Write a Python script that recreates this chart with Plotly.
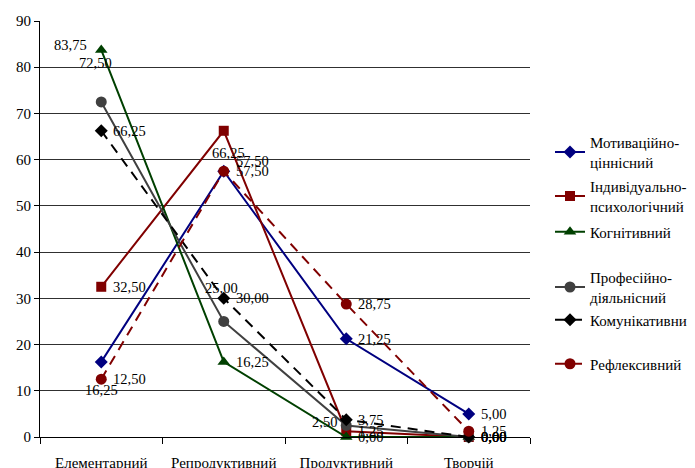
import plotly.graph_objects as go

categories = ["Елементарний", "Репродуктивний", "Продуктивний", "Творчій"]
series_names = ["Мотиваційно-<br>ціннісний", "Індивідуально-<br>психологічний", "Когнітивний",
                "Професійно-<br>діяльнісний", "Комунікативний", "Рефлексивний"]
motiv = [16.25, 57.50, 21.25, 5.00]
indyv = [32.50, 66.25, 1.25, 0.00]
kognit = [83.75, 16.25, 0.00, 0.00]
prof = [72.50, 25.00, 2.50, 0.00]
komun = [66.25, 30.00, 3.75, 0.00]
reflex = [12.50, 57.50, 28.75, 1.25]
y_ticks = [0, 10, 20, 30, 40, 50, 60, 70, 80, 90]

series_values = [motiv, indyv, kognit, prof, komun, reflex]

styles = [
    dict(color="#000080", dash="solid", symbol="diamond", size=10, mcolor="#000080"),
    dict(color="#800000", dash="solid", symbol="square", size=10, mcolor="#800000"),
    dict(color="#004000", dash="solid", symbol="triangle-up", size=11, mcolor="#004000"),
    dict(color="#404040", dash="solid", symbol="circle", size=11, mcolor="#404040"),
    dict(color="#000000", dash="10px,7px", symbol="diamond", size=10, mcolor="#000000"),
    dict(color="#800000", dash="10px,7px", symbol="circle", size=11, mcolor="#800000"),
]

# page body adds an 8px offset; figure is sized so the page fills 695x468
OFF = 8
W, H = 695 - OFF, 468 - OFF

# legend item vertical centres (pixels from top of the page)
legend_centres = [152, 196, 232, 287, 320, 364]

# label placement exceptions: (series, point) -> (xanchor, xshift, yshift)
label_place = {
    (2, 0): ("right", -12, 5),
    (3, 0): ("center", -6, 39),
    (0, 0): ("center", 0, -28),
    (1, 1): ("center", 5, -22),
    (0, 1): ("left", 10, 10),
    (3, 1): ("center", -2, 33),
    (3, 2): ("right", -7, 3),
}

FONT = "Liberation Serif"

fig = go.Figure()
annotations = []
for i, (name, vals, st) in enumerate(zip(series_names, series_values, styles)):
    lg = "legend" if i == 0 else f"legend{i+1}"
    fig.add_trace(go.Scatter(
        x=categories, y=vals, name=name, mode="lines+markers",
        line=dict(color=st["color"], width=2, dash=st["dash"]),
        marker=dict(symbol=st["symbol"], size=st["size"], color=st["mcolor"]),
        cliponaxis=False, legend=lg,
    ))
    for j, v in enumerate(vals):
        xa, xs, ys = label_place.get((i, j), ("left", 10, 0))
        annotations.append(dict(
            x=categories[j], y=v, xref="x", yref="y", showarrow=False,
            text=f"{v:.2f}".replace(".", ","), xanchor=xa, yanchor="middle",
            xshift=xs, yshift=ys, font=dict(family=FONT, size=14.5, color="black"),
        ))

layout_legends = {}
for i, c in enumerate(legend_centres):
    key = "legend" if i == 0 else f"legend{i+1}"
    layout_legends[key] = dict(
        xref="container", yref="container", x=(550 - OFF) / W, y=1 - (c - OFF) / H,
        xanchor="left", yanchor="middle", bgcolor="rgba(0,0,0,0)",
        font=dict(family=FONT, size=15, color="black"), borderwidth=0,
    )

fig.update_layout(
    width=W, height=H,
    margin=dict(l=40 - OFF, r=165, t=21 - OFF, b=31, autoexpand=False),
    paper_bgcolor="white", plot_bgcolor="white",
    font=dict(family=FONT, size=15, color="black"),
    showlegend=True,
    annotations=annotations,
    xaxis=dict(
        type="category", range=[-0.5, 3.5], showgrid=False,
        showline=True, linecolor="black", linewidth=1,
        ticks="outside", tickson="boundaries", ticklen=6, tickcolor="black",
        ticklabelstandoff=12, tickangle=0,
        tickfont=dict(family=FONT, size=15, color="black"),
    ),
    yaxis=dict(
        range=[0, 90], tickvals=y_ticks, showgrid=True, gridcolor="#303030", gridwidth=1,
        showline=True, linecolor="black", linewidth=1, zeroline=False,
        ticks="outside", ticklen=5, tickcolor="black",
        tickfont=dict(family=FONT, size=15, color="black"),
    ),
    **layout_legends,
)

fig.write_html("out.html")
